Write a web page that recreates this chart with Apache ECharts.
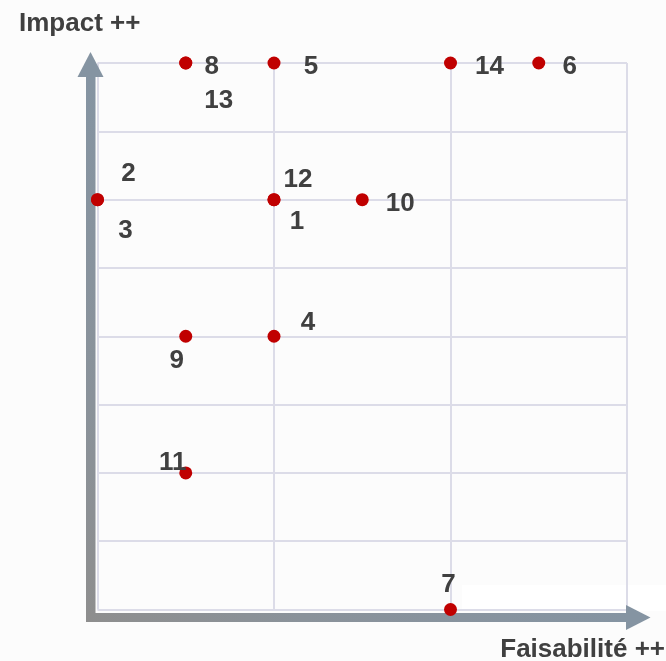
<!DOCTYPE html>
<html>
<head>
<meta charset="utf-8">
<script src="https://cdn.jsdelivr.net/npm/echarts@6/dist/echarts.min.js"></script>
<style>
html,body{margin:0;padding:0;background:#fcfcfc;}
#chart{width:666px;height:661px;}
</style>
</head>
<body>
<div id="chart"></div>
<script>
// Data
var pointLabels = ['8', '13', '5', '14', '6', '2', '3', '12', '1', '10', '4', '9', '11', '7'];
var feasibility = [1, 1, 2, 4, 5, 0, 0, 2, 2, 3, 2, 1, 1, 4];
var impact      = [8, 8, 8, 8, 8, 6, 6, 6, 6, 6, 4, 4, 2, 0];
var xTitle = 'Faisabilité ++';
var yTitle = 'Impact ++';

// Label placement (style only)
var labelOffsets = {
  '8': [26, 4], '13': [33, 38], '5': [37, 4], '14': [39, 4], '6': [31, 4],
  '2': [31, -26], '3': [28, 31], '12': [24, -20], '1': [23, 22], '10': [38, 4],
  '4': [34, -13], '9': [-9, 25], '11': [-13, -10], '7': [-2, -25]
};

var data = pointLabels.map(function (name, i) {
  return {
    name: name,
    value: [feasibility[i], impact[i]],
    label: { offset: labelOffsets[name] }
  };
});

var font = 'Liberation Sans, Arial, sans-serif';
var textColor = '#404040';
var gridColor = '#dcdce8';
var gray = '#8e8e8e';
var blue = '#8594a2';

var chart = echarts.init(document.getElementById('chart'), null, { renderer: 'canvas' });
chart.setOption({
  backgroundColor: '#fcfcfc',
  animation: false,
  grid: { left: 97.5, right: 39, top: 63, bottom: 51.5 },
  xAxis: {
    type: 'value', min: 0, max: 6, interval: 2,
    axisLine: { show: false }, axisTick: { show: false }, axisLabel: { show: false },
    splitLine: { show: true, lineStyle: { color: gridColor, width: 2 } }
  },
  yAxis: {
    type: 'value', min: 0, max: 8, interval: 1,
    axisLine: { show: false }, axisTick: { show: false }, axisLabel: { show: false },
    splitLine: { show: true, lineStyle: { color: gridColor, width: 2 } }
  },
  graphic: [
    { type: 'rect', z: -1, shape: { x: 462, y: 585, width: 204, height: 26 }, style: { fill: '#ffffff' }, silent: true },
    { type: 'rect', z: 10, shape: { x: 86, y: 76, width: 9.5, height: 546 },
      style: { fill: new echarts.graphic.LinearGradient(0, 1, 0, 0, [{ offset: 0, color: gray }, { offset: 0.4, color: '#8a929a' }, { offset: 1, color: blue }]) } },
    { type: 'polygon', z: 10, shape: { points: [[77.5, 77], [103.5, 77], [90.5, 52]] }, style: { fill: blue } },
    { type: 'rect', z: 10, shape: { x: 86, y: 613, width: 541, height: 9 },
      style: { fill: new echarts.graphic.LinearGradient(0, 0, 1, 0, [{ offset: 0, color: gray }, { offset: 0.4, color: '#8a929a' }, { offset: 1, color: blue }]) } },
    { type: 'polygon', z: 10, shape: { points: [[626, 605], [626, 630], [650.5, 617.5]] }, style: { fill: blue } },
    { type: 'text', z: 10, left: 19, top: 11, style: { text: yTitle, font: 'bold 26px ' + font, fill: textColor } },
    { type: 'text', z: 10, right: 1, top: 637, style: { text: xTitle, font: 'bold 26px ' + font, fill: textColor } }
  ],
  series: [{
    type: 'scatter',
    symbol: 'circle',
    symbolSize: 13,
    z: 20,
    itemStyle: { color: '#c00000', opacity: 1 },
    label: {
      show: true,
      position: 'inside',
      formatter: '{b}',
      color: textColor,
      fontFamily: font,
      fontWeight: 'bold',
      fontSize: 26,
      align: 'center',
      verticalAlign: 'middle'
    },
    data: data
  }]
});
</script>
</body>
</html>
